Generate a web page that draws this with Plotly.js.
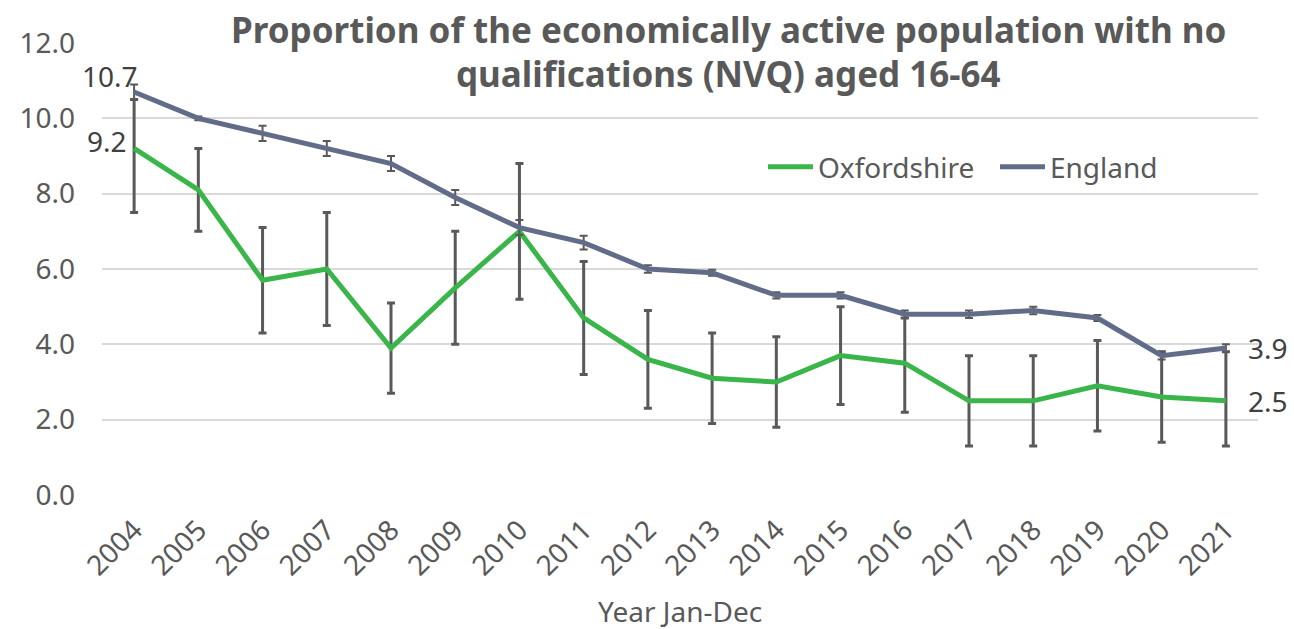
<!DOCTYPE html>
<html>
<head>
<meta charset="utf-8">
<script src="https://cdn.plot.ly/plotly-3.0.1.min.js"></script>
<style>html,body{margin:0;padding:0;background:#fff;}#chart{width:1294px;height:629px;}</style>
</head>
<body>
<div id="chart"></div>
<script>
const years = ['2004','2005','2006','2007','2008','2009','2010','2011','2012','2013','2014','2015','2016','2017','2018','2019','2020','2021'];
const oxfordshire = [9.2, 8.1, 5.7, 6.0, 3.9, 5.5, 7.0, 4.7, 3.6, 3.1, 3.0, 3.7, 3.5, 2.5, 2.5, 2.9, 2.6, 2.5];
const oxfordshireUpper = [10.5, 9.2, 7.1, 7.5, 5.1, 7.0, 8.8, 6.2, 4.9, 4.3, 4.2, 5.0, 4.7, 3.7, 3.7, 4.1, 3.8, 3.8];
const oxfordshireLower = [7.5, 7.0, 4.3, 4.5, 2.7, 4.0, 5.2, 3.2, 2.3, 1.9, 1.8, 2.4, 2.2, 1.3, 1.3, 1.7, 1.4, 1.3];
const england = [10.7, 10.0, 9.6, 9.2, 8.8, 7.9, 7.1, 6.7, 6.0, 5.9, 5.3, 5.3, 4.8, 4.8, 4.9, 4.7, 3.7, 3.9];
const englandErr = [0.2, 0.05, 0.2, 0.2, 0.2, 0.2, 0.2, 0.18, 0.1, 0.08, 0.08, 0.08, 0.1, 0.1, 0.1, 0.08, 0.1, 0.1];
const yTicks = [0, 2, 4, 6, 8, 10, 12];
const titleLines = ['Proportion of the economically active population with no', 'qualifications (NVQ) aged 16-64'];
const xTitle = 'Year Jan-Dec';

const FONT = 'Noto Sans, Open Sans, sans-serif';
const errColor = '#595959';
const FS = 28;

const traces = [
  {
    x: years, y: oxfordshire, type: 'scatter', mode: 'lines', name: 'Oxfordshire',
    line: {color: '#3AB54A', width: 5},
    error_y: {
      type: 'data', symmetric: false,
      array: oxfordshire.map((v, i) => +(oxfordshireUpper[i] - v).toFixed(2)),
      arrayminus: oxfordshire.map((v, i) => +(v - oxfordshireLower[i]).toFixed(2)),
      color: errColor, thickness: 3, width: 4
    }
  },
  {
    x: years, y: england, type: 'scatter', mode: 'lines', name: 'England',
    line: {color: '#606C88', width: 5},
    error_y: {type: 'data', array: englandErr, color: errColor, thickness: 2, width: 4}
  }
];

const labelFont = {family: FONT, size: FS, color: '#404040'};
const n = years.length - 1;
// plot area: x 102..1258, y 43..495
const py = px => (495 - px) / 452;
const pxX = px => (px - 102) / 1156;

const layout = {
  width: 1294, height: 629,
  paper_bgcolor: '#ffffff', plot_bgcolor: '#ffffff',
  margin: {l: 102, r: 36, t: 43, b: 134, autoexpand: false},
  font: {family: FONT, color: '#595959'},
  xaxis: {
    type: 'category', range: [-0.5, 17.5], showgrid: false, zeroline: false,
    showline: false, ticks: '', tickangle: -45, automargin: false, ticklabelstandoff: 12,
    tickfont: {family: FONT, size: FS, color: '#595959'}
  },
  yaxis: {
    range: [0, 12], tickvals: yTicks, ticktext: yTicks.map(v => v.toFixed(1)),
    showgrid: true, gridcolor: '#D9D9D9', gridwidth: 2, zeroline: false, showline: false,
    ticks: '', ticklabelstandoff: 26, automargin: false,
    tickfont: {family: FONT, size: FS, color: '#595959'}
  },
  legend: {
    orientation: 'h', x: pxX(763), xanchor: 'left', y: py(167), yanchor: 'middle',
    font: {family: FONT, size: FS, color: '#595959'},
    itemwidth: 45, entrywidth: 172, entrywidthmode: 'pixels',
    bgcolor: 'rgba(0,0,0,0)'
  },
  showlegend: true,
  annotations: [
    {xref: 'paper', yref: 'paper', x: pxX(728), y: py(30), text: titleLines[0], showarrow: false, xanchor: 'center', yanchor: 'middle',
     font: {family: FONT, size: 35, color: '#595959', weight: 'bold'}},
    {xref: 'paper', yref: 'paper', x: pxX(728), y: py(73), text: titleLines[1], showarrow: false, xanchor: 'center', yanchor: 'middle',
     font: {family: FONT, size: 35, color: '#595959', weight: 'bold'}},
    {xref: 'paper', yref: 'paper', x: pxX(680), y: py(611), text: xTitle, showarrow: false, xanchor: 'center', yanchor: 'middle',
     font: {family: FONT, size: FS, color: '#595959'}},
    {xref: 'x', yref: 'y', x: 0, y: england[0], text: england[0].toFixed(1), showarrow: false, xanchor: 'right', yanchor: 'middle', xshift: 6, yshift: 16, font: labelFont},
    {xref: 'x', yref: 'y', x: 0, y: oxfordshire[0], text: oxfordshire[0].toFixed(1), showarrow: false, xanchor: 'right', yanchor: 'middle', xshift: -5, yshift: 7, font: labelFont},
    {xref: 'x', yref: 'y', x: n, y: england[n], text: england[n].toFixed(1), showarrow: false, xanchor: 'left', yanchor: 'middle', xshift: 20, yshift: 0, font: labelFont},
    {xref: 'x', yref: 'y', x: n, y: oxfordshire[n], text: oxfordshire[n].toFixed(1), showarrow: false, xanchor: 'left', yanchor: 'middle', xshift: 20, yshift: 0, font: labelFont}
  ]
};

Plotly.newPlot('chart', traces, layout, {displayModeBar: false, responsive: false});
</script>
</body>
</html>
